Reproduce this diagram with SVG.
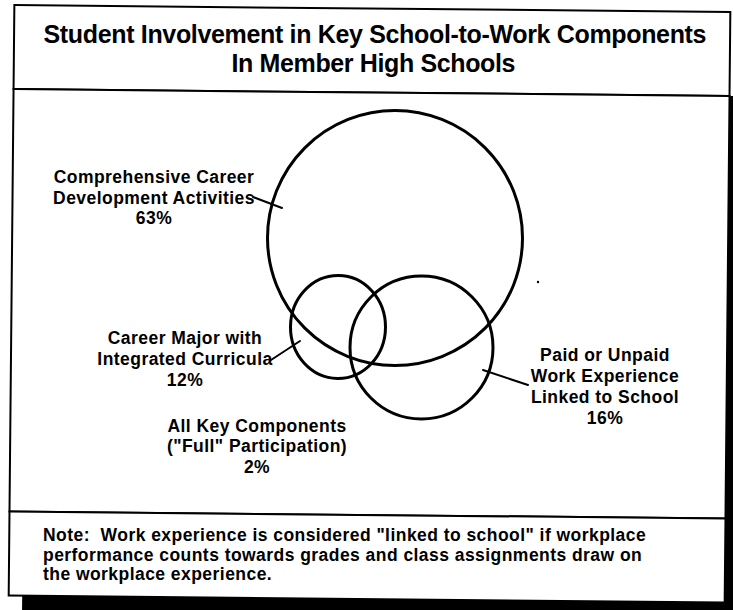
<svg xmlns="http://www.w3.org/2000/svg" width="733" height="610" viewBox="0 0 733 610">
<style>
.frame{fill:#fff;stroke:#000;stroke-width:2}
.ring{fill:none;stroke:#000;stroke-width:3}
.lead{fill:none;stroke:#000;stroke-width:2;stroke-linecap:round}
text{font-family:"Liberation Sans",Arial,Helvetica,sans-serif;font-weight:bold;fill:#000}
.title{font-size:25px;text-anchor:middle}
.lbl{font-size:17.5px;letter-spacing:0.45px;text-anchor:middle}
.note{font-size:17.5px;letter-spacing:0.45px;text-anchor:start}
</style>
<rect x="0" y="0" width="733" height="610" fill="#fff"/>
<g id="frame" transform="rotate(0.55 366 305)">
  <rect x="25" y="92.5" width="730" height="540" fill="#000"/>
  <rect class="frame" x="11.5" y="8.5" width="716" height="84"/>
  <rect class="frame" x="11.5" y="92.5" width="716" height="422.5"/>
  <rect class="frame" x="11.5" y="515" width="716" height="84"/>
</g>
<g id="title">
  <text class="title" x="375" y="43" textLength="663">Student Involvement in Key School-to-Work Components</text>
  <text class="title" x="373.5" y="72" textLength="284">In Member High Schools</text>
</g>
<g id="career-development">
  <circle class="ring" cx="395" cy="238" r="127.5"/>
  <text class="lbl" x="154" y="183">Comprehensive Career</text>
  <text class="lbl" x="154" y="204">Development Activities</text>
  <text class="lbl" x="154" y="224">63%</text>
</g>
<g id="career-major">
  <ellipse class="ring" cx="338" cy="327" rx="47.5" ry="51.5" transform="rotate(0.55 338 327)"/>
  <text class="lbl" x="185" y="344">Career Major with</text>
  <text class="lbl" x="185" y="365">Integrated Curricula</text>
  <text class="lbl" x="185" y="386">12%</text>
</g>
<g id="work-experience">
  <circle class="ring" cx="421.5" cy="347.5" r="71.5"/>
  <text class="lbl" x="605" y="361">Paid or Unpaid</text>
  <text class="lbl" x="605" y="382">Work Experience</text>
  <text class="lbl" x="605" y="403">Linked to School</text>
  <text class="lbl" x="605" y="424">16%</text>
</g>
<g id="all-key-components">
  <text class="lbl" x="257" y="432">All Key Components</text>
  <text class="lbl" x="257" y="452">("Full" Participation)</text>
  <text class="lbl" x="257" y="473">2%</text>
</g>
<g id="connectors">
  <line class="lead" x1="253" y1="197" x2="282" y2="208"/>
  <line class="lead" x1="271" y1="360" x2="300" y2="341"/>
  <line class="lead" x1="483" y1="370" x2="528" y2="385"/>
</g>
<circle cx="538" cy="282" r="1.2" fill="#000"/>
<g id="note">
  <text class="note" x="43" y="541">Note:&#160; Work experience is considered "linked to school" if workplace</text>
  <text class="note" x="43" y="561">performance counts towards grades and class assignments draw on</text>
  <text class="note" x="43" y="580">the workplace experience.</text>
</g>
</svg>
